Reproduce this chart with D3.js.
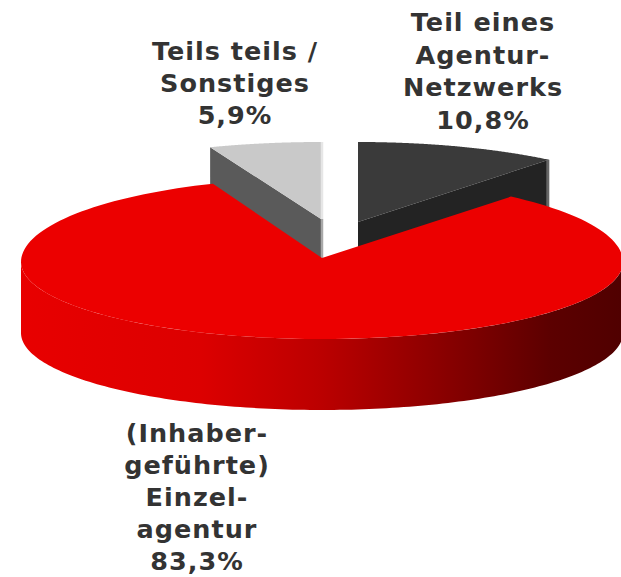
<!DOCTYPE html>
<html><head><meta charset="utf-8">
<script src="https://cdn.jsdelivr.net/npm/d3@7"></script>
<style>html,body{margin:0;padding:0;background:#fff}svg{display:block}</style>
</head><body><svg id="c" width="621" height="577"></svg>
<script>
const categories = ["Teil eines Agentur-Netzwerks", "(Inhaber-geführte) Einzelagentur", "Teils teils / Sonstiges"];
const values = [10.8, 83.3, 5.9];
const valueLabels = ["10,8%", "83,3%", "5,9%"];
const labelLines = [["Teil eines","Agentur-","Netzwerks"],["(Inhaber-","geführte)","Einzel-","agentur"],["Teils teils /","Sonstiges"]];

const svg = d3.select("#c");
const pie = d3.pie().sort(null).value(d=>d)(values);
const depth = 71;
const geo = [
  {cx:358, cy:222, rx:304, up:80, down:80, apexDy:0, top:"#3a3a3a", wall:"#232323", edge:"#666666"},
  {cx:322, cy:262, rx:301, up:84, down:77, apexDy:-4, top:"#ec0000"},
  {cx:321, cy:219, rx:306, up:77, down:77, apexDy:0, top:"#c9c9c9", wall:"#5a5a5a"}
];
const pt = (g,a)=>{const c=Math.cos(a);return [g.cx+g.rx*Math.sin(a), g.cy-c*(c>0?g.up:g.down)];};
const line = d3.line();
const arcPts = (g,a0,a1,n=160)=>d3.range(n+1).map(i=>pt(g,a0+(a1-a0)*i/n));
const facePath = (g,s)=>line([[g.cx,g.cy+g.apexDy],...arcPts(g,s.startAngle,s.endAngle)])+"Z";

const defs = svg.append("defs");
const grad = defs.append("linearGradient").attr("id","wall").attr("gradientUnits","userSpaceOnUse")
  .attr("x1",21).attr("x2",622).attr("y1",0).attr("y2",0);
[[0,"#e80000"],[0.3,"#dc0000"],[0.5,"#bb0000"],[0.7,"#8a0000"],[0.88,"#5c0000"],[1,"#500000"]]
  .forEach(([o,c])=>grad.append("stop").attr("offset",o).attr("stop-color",c));

// grey slice
{
  const g=geo[2], s=pie[2], r=pt(g,s.startAngle);
  svg.append("path").attr("d",line([[g.cx,g.cy],r,[r[0],r[1]+depth],[g.cx,g.cy+depth]])+"Z").attr("fill",g.wall);
  svg.append("path").attr("d",facePath(g,s)).attr("fill",g.top);
  svg.append("path").attr("d",line([[g.cx+1,g.cy-77],[g.cx+1,g.cy]])).attr("stroke","#e6e6e6").attr("stroke-width",2.5).attr("fill","none");
  svg.append("path").attr("d",line([[g.cx+1,g.cy],[g.cx+1,g.cy+depth-32]])).attr("stroke","#a8a8a8").attr("stroke-width",2.5).attr("fill","none");
}
// dark slice
{
  const g=geo[0], s=pie[0], r=pt(g,s.endAngle);
  svg.append("path").attr("d",facePath(g,s)).attr("fill",g.top);
  svg.append("path").attr("d",line([[g.cx,g.cy],r,[r[0],r[1]+depth],[g.cx,g.cy+depth]])+"Z").attr("fill",g.wall);
  svg.append("path").attr("d",line([[r[0]-1,r[1]],[r[0]-1,r[1]+depth]])).attr("stroke",g.edge).attr("stroke-width",3).attr("fill","none");
}
// red slice
{
  const g=geo[1], s=pie[1];
  const lower=arcPts(g,Math.PI/2,Math.PI*1.5);
  const wallPts=[...lower,...lower.slice().reverse().map(p=>[p[0],p[1]+depth])];
  svg.append("path").attr("d",line(wallPts)+"Z").attr("fill","url(#wall)");
  svg.append("path").attr("d",facePath(g,s)).attr("fill",g.top);
}
// labels
const labels=[
  {x:483, y:31, lines:[...labelLines[0],valueLabels[0]]},
  {x:197, y:442, lines:[...labelLines[1],valueLabels[1]]},
  {x:235, y:60, lines:[...labelLines[2],valueLabels[2]]}
];
const lh=[32.5,32,32];
labels.forEach((l,i)=>{
  const t=svg.append("text").attr("text-anchor","middle").attr("fill","#333333")
    .attr("font-family","'DejaVu Sans',Verdana,sans-serif").attr("font-weight","bold").attr("font-size",25.5).attr("letter-spacing",1);
  l.lines.forEach((s,j)=>t.append("tspan").attr("x",l.x).attr("y",l.y+j*lh[i]).text(s));
});
</script></body></html>
